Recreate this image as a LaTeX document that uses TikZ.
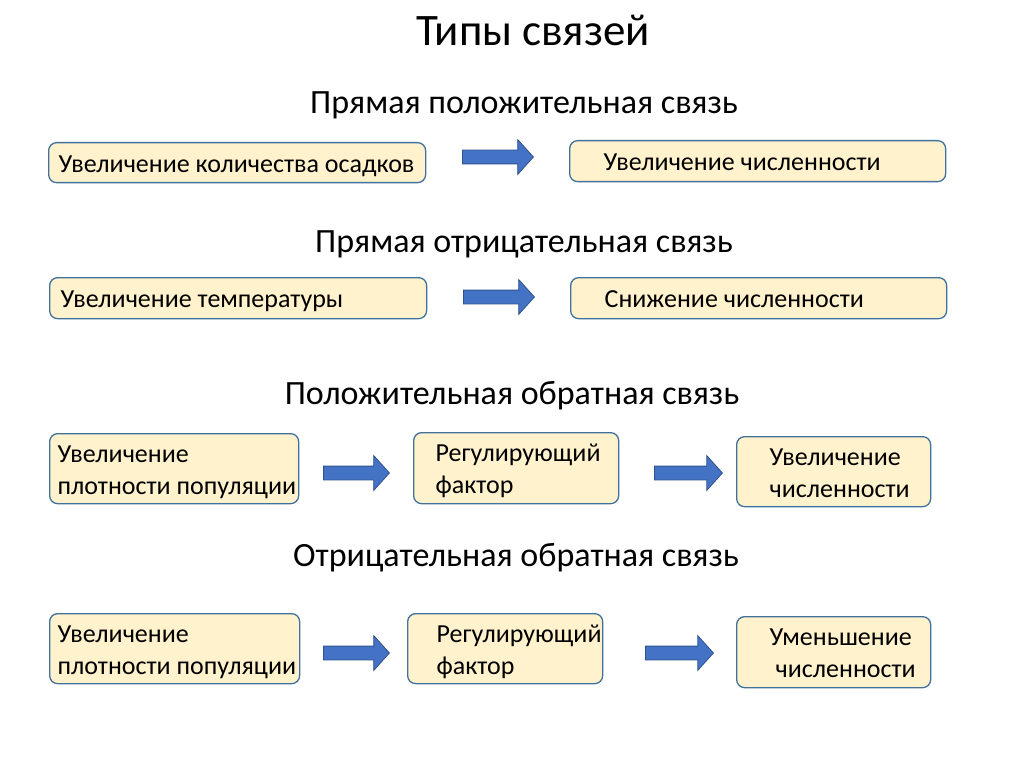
\documentclass[tikz,border=0pt]{standalone}
\usepackage{fontspec}
\setmainfont{Carlito}
\usetikzlibrary{shapes.arrows}
\definecolor{boxfill}{HTML}{FFF2CC}
\definecolor{boxline}{HTML}{41719C}
\definecolor{arrfill}{HTML}{4472C4}
\definecolor{arrline}{HTML}{2F528F}
\newcommand{\bxt}[3]{\makebox[#1pt][l]{\hspace{#2pt}\raisebox{0pt}[\dimexpr\height+6pt\relax][\depth]{\begin{tabular}{@{}l@{}}#3\end{tabular}}}}
\tikzset{
  box/.style={draw=boxline, line width=1.3pt, fill=boxfill, rounded corners=8pt,
    inner sep=0pt, anchor=north west, font=\fontsize{26}{32}\selectfont},
  blockarrow/.style={single arrow, draw=arrline, line width=0.8pt, fill=arrfill,
    inner sep=0pt, minimum width=34pt, single arrow head extend=10.5pt,
    single arrow tip angle=96, anchor=west},
  heading/.style={anchor=base, font=\fontsize{34}{40}\selectfont},
  titletext/.style={anchor=base, font=\fontsize{45}{54}\selectfont}
}
\begin{document}
\begin{tikzpicture}[x=1pt,y=-1pt]
\useasboundingbox (0,0) rectangle (1024,767);
\fill[white] (0,0) rectangle (1024,767);

\node[titletext] (title) at (533,46) {Типы связей};

\node[heading] (h1) at (524,114) {Прямая положительная связь};
\node[heading] (h2) at (524,252) {Прямая отрицательная связь};
\node[heading] (h3) at (512,404) {Положительная обратная связь};
\node[heading] (h4) at (516,566) {Отрицательная обратная связь};

% row 1
\node[box, minimum height=40pt] (a1) at (48,142) {\bxt{377}{10}{Увеличение количества осадков}};
\node[box, minimum height=41pt] (b1) at (569,140) {\bxt{376}{34}{Увеличение численности}};
\node[blockarrow, minimum height=71pt] (r1) at (462,157) {\rule{0pt}{13pt}};

% row 2
\node[box, minimum height=41pt] (a2) at (49,277) {\bxt{377}{11}{Увеличение температуры}};
\node[box, minimum height=41pt] (b2) at (570,277) {\bxt{376}{34}{Снижение численности}};
\node[blockarrow, minimum height=71pt] (r2) at (463,297) {\rule{0pt}{13pt}};

% row 3
\node[box, minimum height=69pt] (a3) at (49,433) {\bxt{249}{8}{Увеличение\\плотности популяции}};
\node[box, minimum height=71pt] (b3) at (413,432) {\bxt{205}{22}{Регулирующий\\фактор}};
\node[box, minimum height=70pt] (c3) at (736,436) {\bxt{194}{33}{Увеличение\\численности}};
\node[blockarrow, minimum height=66pt] (r3) at (323,473) {\rule{0pt}{13pt}};
\node[blockarrow, minimum height=68pt] (r4) at (654,473) {\rule{0pt}{13pt}};

% row 4
\node[box, minimum height=69pt] (a4) at (49,613) {\bxt{250}{8}{Увеличение\\плотности популяции}};
\node[box, minimum height=70pt] (b4) at (407,613) {\bxt{195}{29}{Регулирующий\\фактор}};
\node[box, minimum height=71pt] (c4) at (736,616) {\bxt{194}{33}{Уменьшение\\\hspace{6pt}численности}};
\node[blockarrow, minimum height=66pt] (r5) at (323,653) {\rule{0pt}{13pt}};
\node[blockarrow, minimum height=68pt] (r6) at (645,653) {\rule{0pt}{13pt}};
\end{tikzpicture}
\end{document}
